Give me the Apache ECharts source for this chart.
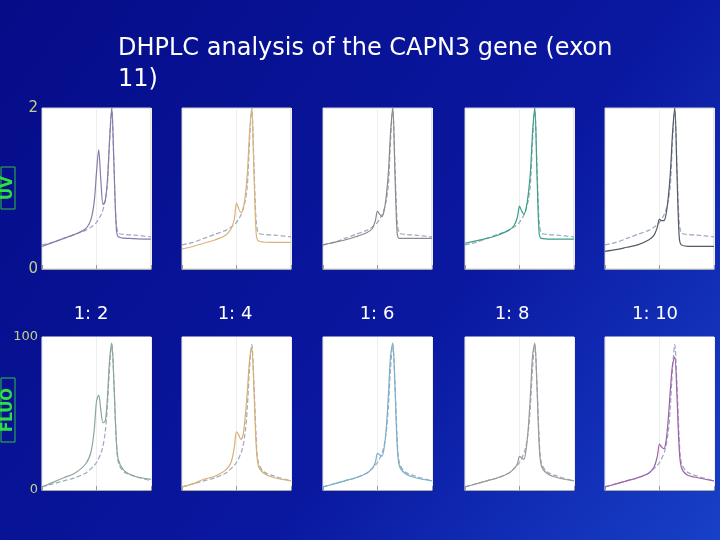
<!DOCTYPE html><html><head><meta charset="utf-8">
<script src="https://cdn.jsdelivr.net/npm/echarts@6/dist/echarts.min.js"></script>
<style>html,body{margin:0;padding:0;}#c{width:720px;height:540px;}</style></head><body><div id="c"></div>
<script>
const ratios = ["1: 2","1: 4","1: 6","1: 8","1: 10"];
const uvRef = [[0,0.3],[10,0.33],[20,0.38],[30,0.43],[40,0.48],[45,0.52],[50,0.58],[55,0.7],[58,0.85],[60,1.05],[62,1.6],[64,2.0],[66,1.3],[68,0.6],[70,0.45],[75,0.43],[85,0.42],[100,0.4]];
const uv12 = [[0,0.28],[10,0.33],[20,0.38],[30,0.43],[40,0.5],[45,0.62],[48,0.85],[50,1.2],[52,1.48],[54,1.1],[56,0.8],[58,0.85],[60,1.1],[62,1.6],[64,2.0],[66,1.3],[68,0.55],[70,0.4],[80,0.38],[100,0.37]];
const uv14 = [[0,0.25],[10,0.28],[20,0.32],[30,0.36],[40,0.42],[45,0.5],[48,0.62],[50,0.82],[52,0.75],[54,0.7],[56,0.75],[58,0.9],[60,1.2],[62,1.7],[64,2.0],[66,1.2],[68,0.45],[70,0.35],[80,0.33],[100,0.33]];
const uv16 = [[0,0.3],[10,0.33],[20,0.36],[30,0.4],[40,0.45],[45,0.5],[48,0.6],[50,0.72],[52,0.68],[54,0.65],[56,0.72],[58,0.9],[60,1.2],[62,1.7],[64,2.0],[66,1.2],[68,0.45],[70,0.38],[80,0.38],[100,0.38]];
const uv18 = [[0,0.32],[10,0.35],[20,0.38],[30,0.42],[40,0.48],[45,0.54],[48,0.64],[50,0.78],[52,0.72],[54,0.68],[56,0.75],[58,0.92],[60,1.2],[62,1.7],[64,2.0],[66,1.2],[68,0.45],[70,0.38],[80,0.37],[100,0.37]];
const uv110 = [[0,0.22],[10,0.24],[20,0.27],[30,0.3],[40,0.36],[45,0.42],[48,0.52],[50,0.62],[52,0.6],[54,0.6],[56,0.68],[58,0.88],[60,1.2],[62,1.7],[64,2.0],[66,1.2],[68,0.42],[70,0.3],[80,0.28],[100,0.28]];
const flRef = [[0,2],[10,4],[20,6],[30,8],[40,11],[45,14],[50,18],[55,26],[58,38],[60,55],[62,80],[64,95],[66,70],[68,35],[70,18],[75,12],[85,9],[100,6]];
const fl12 = [[0,2],[10,5],[20,8],[30,11],[40,17],[45,25],[48,40],[50,58],[52,62],[54,52],[56,44],[58,45],[60,60],[62,85],[64,96],[66,70],[68,35],[70,20],[75,13],[85,9],[100,7]];
const fl14 = [[0,2],[10,4],[20,7],[30,9],[40,13],[45,18],[48,28],[50,38],[52,36],[54,33],[56,36],[58,48],[60,65],[62,85],[64,93],[66,65],[68,30],[70,16],[75,11],[85,8],[100,6]];
const fl16 = [[0,2],[10,4],[20,6],[30,8],[40,11],[45,14],[48,18],[50,24],[52,23],[54,22],[56,27],[58,40],[60,62],[62,88],[64,96],[66,68],[68,30],[70,16],[75,11],[85,8],[100,6]];
const fl18 = [[0,2],[10,4],[20,6],[30,8],[40,11],[45,14],[48,17],[50,22],[52,21],[54,20],[56,26],[58,40],[60,62],[62,88],[64,96],[66,68],[68,30],[70,16],[75,11],[85,8],[100,6]];
const fl110 = [[0,2],[10,4],[20,6],[30,8],[40,11],[45,15],[48,22],[50,30],[52,28],[54,27],[56,32],[58,46],[60,66],[62,82],[64,87],[66,62],[68,28],[70,15],[75,10],[85,8],[100,6]];
const uvSamples=[uv12,uv14,uv16,uv18,uv110];
const flSamples=[fl12,fl14,fl16,fl18,fl110];
const uvColors=["#8a7aa8","#d9b47a","#8a8a8a","#3aa08a","#555a66"];
const flColors=["#8aa898","#d8b070","#7ab0c8","#9a9a9a","#a060a8"];
const lefts=[42,182,323,465,605];
const grid=[],xAxis=[],yAxis=[],series=[];
for(let r=0;r<2;r++){for(let i=0;i<5;i++){
 const k=r*5+i;
 grid.push({left:lefts[i],width:109,top:r?337:108,height:r?153:161,backgroundColor:'#fff',show:true,borderColor:r?'#fff':'#ccc',borderWidth:1});
 xAxis.push({type:'value',gridIndex:k,min:0,max:100,interval:50,axisLabel:{show:false},axisTick:{show:true,inside:true,length:4,lineStyle:{color:'#999'}},axisLine:{lineStyle:{color:'#aaa'}},splitLine:{show:true,lineStyle:{color:'#eee'}}});
 yAxis.push({type:'value',gridIndex:k,min:0,max:r?100:2,interval:r?100:2,axisLine:{show:false},axisTick:{show:false},
  axisLabel:{show:i===0,color:'#c0d088',fontSize:r?13:15,fontFamily:'DejaVu Sans',margin:4},splitLine:{show:false}});
 const ref=r?flRef:uvRef, smp=r?flSamples[i]:uvSamples[i], col=r?flColors[i]:uvColors[i];
 series.push({type:'line',xAxisIndex:k,yAxisIndex:k,data:ref,smooth:0.3,symbol:'none',lineStyle:{color:'#9aa8c0',width:1.2,type:'dashed'}});
 series.push({type:'line',xAxisIndex:k,yAxisIndex:k,data:smp,smooth:0.3,symbol:'none',lineStyle:{color:col,width:1.2}});
}}
const graphic=[
 {type:'text',left:118,top:33,style:{text:'DHPLC analysis of the CAPN3 gene (exon\n11)',fill:'#fff',fontSize:24,fontFamily:'DejaVu Sans',lineHeight:31}},
 {type:'rect',shape:{x:1,y:167,width:14,height:42},style:{fill:'none',stroke:'#30c040',lineWidth:1}},
 {type:'text',x:8,y:188,rotation:Math.PI/2,style:{text:'UV',fill:'#30e040',fontSize:15,fontWeight:'bold',fontFamily:'DejaVu Sans',align:'center',verticalAlign:'middle'}},
 {type:'rect',shape:{x:1,y:378,width:14,height:64},style:{fill:'none',stroke:'#30c040',lineWidth:1}},
 {type:'text',x:8,y:410,rotation:Math.PI/2,style:{text:'FLUO',fill:'#30e040',fontSize:15,fontWeight:'bold',fontFamily:'DejaVu Sans',align:'center',verticalAlign:'middle'}}
];
const cx=[91,235,377,512,655];
ratios.forEach((t,i)=>graphic.push({type:'text',x:cx[i],y:314,style:{text:t,fill:'#fff',fontSize:18,fontFamily:'DejaVu Sans',align:'center',verticalAlign:'middle'}}));
const ch=echarts.init(document.getElementById('c'));
ch.setOption({animation:false,
 backgroundColor:{type:'linear',x:0,y:0,x2:1,y2:1,colorStops:[{offset:0,color:'#050c88'},{offset:0.6,color:'#0a18a0'},{offset:1,color:'#1840c8'}]},
 grid,xAxis,yAxis,series,graphic});
</script></body></html>
